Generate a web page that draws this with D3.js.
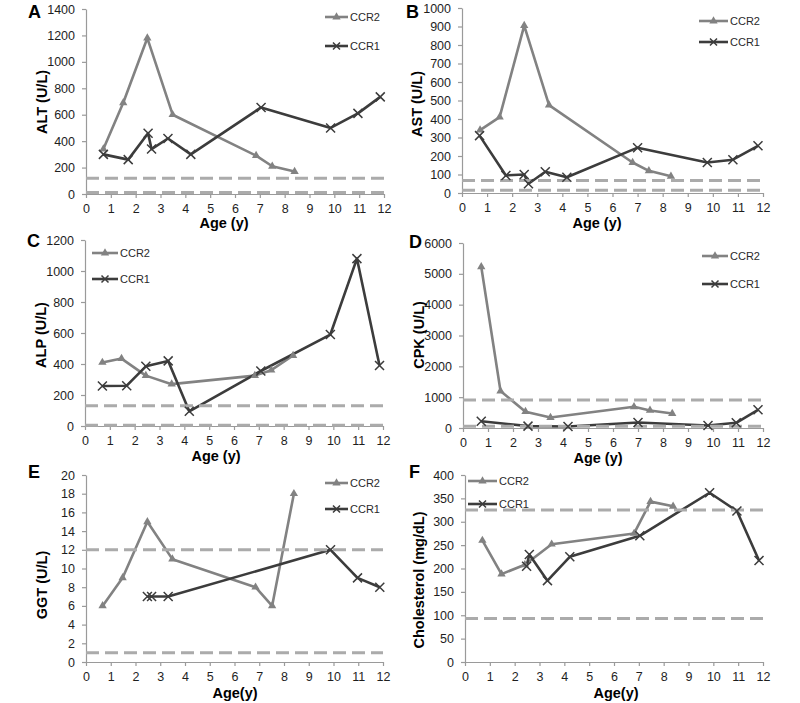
<!DOCTYPE html>
<html>
<head>
<meta charset="utf-8">
<script src="https://cdn.jsdelivr.net/npm/d3@7"></script>
<style>
  html, body { margin: 0; padding: 0; background: #fff; }
  svg { display: block; font-family: "Liberation Sans", Arial, sans-serif; }
</style>
</head>
<body>
<svg id="chart" width="800" height="703"></svg>
<script>
// ---------------- DATA ----------------
const xTickValues = [0, 1, 2, 3, 4, 5, 6, 7, 8, 9, 10, 11, 12];
const seriesNames = ["CCR2", "CCR1"];

// A: ALT
const altCCR2Age = [0.7, 1.5, 2.47, 3.49, 6.85, 7.5, 8.4];
const altCCR2 = [340, 690, 1180, 600, 290, 210, 170];
const altCCR1Age = [0.7, 1.7, 2.5, 2.64, 3.3, 4.22, 7.05, 9.85, 10.95, 11.85];
const altCCR1 = [300, 260, 460, 340, 420, 300, 655, 500, 610, 735];
const altRef = [12, 120];

// B: AST
const astCCR2Age = [0.72, 1.5, 2.48, 3.47, 6.8, 7.45, 8.33];
const astCCR2 = [340, 410, 905, 475, 165, 120, 90];
const astCCR1Age = [0.7, 1.75, 2.48, 2.65, 3.32, 4.18, 7.0, 9.78, 10.8, 11.8];
const astCCR1 = [310, 95, 100, 50, 115, 85, 245, 165, 180, 255];
const astRef = [15, 68];

// C: ALP
const alpCCR2Age = [0.7, 1.47, 2.45, 3.49, 6.84, 7.5, 8.38];
const alpCCR2 = [410, 435, 325, 270, 325, 360, 455];
const alpCCR1Age = [0.7, 1.68, 2.45, 3.35, 4.2, 7.08, 9.88, 10.95, 11.86];
const alpCCR1 = [258, 260, 385, 420, 95, 355, 590, 1080, 390];
const alpRef = [5, 130];

// D: CPK
const cpkCCR2Age = [0.73, 1.5, 2.5, 3.5, 6.84, 7.48, 8.37];
const cpkCCR2 = [5230, 1200, 530, 340, 690, 570, 470];
const cpkCCR1Age = [0.73, 2.6, 4.2, 7.0, 9.8, 10.93, 11.8];
const cpkCCR1 = [220, 60, 50, 180, 80, 170, 590];
const cpkRef = [55, 910];

// E: GGT
const ggtCCR2Age = [0.67, 1.48, 2.48, 3.49, 6.85, 7.52, 8.4];
const ggtCCR2 = [6, 9, 15, 11, 8, 6, 18];
const ggtCCR1Age = [2.48, 2.65, 3.32, 9.88, 10.97, 11.87];
const ggtCCR1 = [7, 7, 7, 12, 9, 8];
const ggtRef = [1, 12];

// F: Cholesterol
const cholCCR2Age = [0.7, 1.47, 2.41, 3.49, 6.81, 7.47, 8.38];
const cholCCR2 = [260, 188, 208, 252, 275, 343, 333];
const cholCCR1Age = [2.48, 2.59, 3.32, 4.22, 7.04, 9.85, 10.95, 11.84];
const cholCCR1 = [205, 230, 174, 225, 270, 362, 323, 217];
const cholRef = [93, 325];

// ---------------- LAYOUT ----------------
const panels = [
  { letter: "A", yTitle: "ALT (U/L)", xTitle: "Age (y)", yMax: 1400, yStep: 200,
    l: 86, r: 384, t: 9, b: 194, pad: 6, letterPos: [28, 18], yTitlePos: [42, 102], xTitlePos: [224, 228],
    leg: { x1: 325, x2: 348, y: [17, 46] },
    s2: [altCCR2Age, altCCR2], s1: [altCCR1Age, altCCR1], ref: altRef },
  { letter: "B", yTitle: "AST (U/L)", xTitle: "Age (y)", yMax: 1000, yStep: 100,
    l: 462, r: 763, t: 8, b: 193, pad: 6, letterPos: [406, 18], yTitlePos: [417, 104], xTitlePos: [597, 228],
    leg: { x1: 699, x2: 728, y: [21, 42] },
    s2: [astCCR2Age, astCCR2], s1: [astCCR1Age, astCCR1], ref: astRef },
  { letter: "C", yTitle: "ALP (U/L)", xTitle: "Age (y)", yMax: 1200, yStep: 200,
    l: 85, r: 383, t: 240, b: 426, pad: 6, letterPos: [27, 247], yTitlePos: [41, 335], xTitlePos: [216, 461],
    leg: { x1: 92, x2: 118, y: [253, 279] },
    s2: [alpCCR2Age, alpCCR2], s1: [alpCCR1Age, alpCCR1], ref: alpRef },
  { letter: "D", yTitle: "CPK (U/L)", xTitle: "Age (y)", yMax: 6000, yStep: 1000,
    l: 463, r: 763, t: 243, b: 428, pad: 6, letterPos: [409, 248], yTitlePos: [419, 335], xTitlePos: [598, 463],
    leg: { x1: 702, x2: 728, y: [256, 284] },
    s2: [cpkCCR2Age, cpkCCR2], s1: [cpkCCR1Age, cpkCCR1], ref: cpkRef },
  { letter: "E", yTitle: "GGT (U/L)", xTitle: "Age(y)", yMax: 20, yStep: 2,
    l: 86, r: 383, t: 475, b: 662, pad: 6, letterPos: [28, 478], yTitlePos: [42, 585], xTitlePos: [235, 698],
    leg: { x1: 325, x2: 348, y: [483, 509] },
    s2: [ggtCCR2Age, ggtCCR2], s1: [ggtCCR1Age, ggtCCR1], ref: ggtRef },
  { letter: "F", yTitle: "Cholesterol (mg/dL)", xTitle: "Age(y)", yMax: 400, yStep: 50,
    l: 465, r: 763, t: 475, b: 662, pad: 6, letterPos: [409, 478], yTitlePos: [419, 580], xTitlePos: [616, 698],
    leg: { x1: 468, x2: 497, y: [481, 504] },
    s2: [cholCCR2Age, cholCCR2], s1: [cholCCR1Age, cholCCR1], ref: cholRef }
];

const colCCR2 = "#828282";
const colCCR1 = "#3c3c3c";
const colRef = "#ababab";
const colAxis = "#9a9a9a";

const svg = d3.select("#chart");
const tri = d3.symbol().type(d3.symbolTriangle).size(30);

function drawX(g, cx, cy, s) {
  g.append("path")
    .attr("d", `M${cx - s},${cy - s}L${cx + s},${cy + s}M${cx - s},${cy + s}L${cx + s},${cy - s}`)
    .attr("stroke", colCCR1).attr("stroke-width", 1.5).attr("fill", "none");
}

panels.forEach(p => {
  const g = svg.append("g");
  const x = d3.scaleLinear().domain([0, 12]).range([p.l, p.r]);
  const y = d3.scaleLinear().domain([0, p.yMax]).range([p.b, p.t]);

  // axes
  const yAx = d3.axisLeft(y).tickValues(d3.range(0, p.yMax + p.yStep / 2, p.yStep))
    .tickSize(4).tickSizeOuter(0).tickPadding(7).tickFormat(d3.format("d"));
  const xAx = d3.axisBottom(x).tickValues(xTickValues)
    .tickSize(4).tickSizeOuter(0).tickPadding(p.pad).tickFormat(d3.format("d"));
  const gy = g.append("g").attr("transform", `translate(${p.l},0)`).call(yAx);
  const gx = g.append("g").attr("transform", `translate(0,${p.b})`).call(xAx);
  [gx, gy].forEach(a => {
    a.select(".domain").attr("stroke", colAxis).attr("stroke-width", 1.2);
    a.selectAll(".tick line").attr("stroke", colAxis).attr("stroke-width", 1.2);
    a.selectAll(".tick text").attr("fill", "#1e1e1e")
      .style("font-size", "12.5px").style("font-family", "'Liberation Sans', Arial, sans-serif");
  });

  // series lines
  const line = d3.line().x(d => x(d[0])).y(d => y(d[1]));
  const pts2 = p.s2[0].map((a, i) => [a, p.s2[1][i]]);
  const pts1 = p.s1[0].map((a, i) => [a, p.s1[1][i]]);
  g.append("path").datum(pts2).attr("d", line).attr("fill", "none")
    .attr("stroke", colCCR2).attr("stroke-width", 2.6).attr("stroke-linejoin", "round");
  g.append("path").datum(pts1).attr("d", line).attr("fill", "none")
    .attr("stroke", colCCR1).attr("stroke-width", 2.6).attr("stroke-linejoin", "round");

  // reference (normal range) dashed lines
  p.ref.forEach(v => {
    g.append("line")
      .attr("x1", x(0)).attr("x2", x(12)).attr("y1", y(v)).attr("y2", y(v))
      .attr("stroke", colRef).attr("stroke-width", 3).attr("stroke-dasharray", "13,6");
  });

  // markers
  g.selectAll(".m2").data(pts2).enter().append("path")
    .attr("d", tri).attr("transform", d => `translate(${x(d[0])},${y(d[1])})`)
    .attr("fill", colCCR2);
  pts1.forEach(d => drawX(g, x(d[0]), y(d[1]), 4.5));

  // legend
  const lg = g.append("g");
  seriesNames.forEach((name, i) => {
    const ly = p.leg.y[i];
    const col = i === 0 ? colCCR2 : colCCR1;
    lg.append("line").attr("x1", p.leg.x1).attr("x2", p.leg.x2).attr("y1", ly).attr("y2", ly)
      .attr("stroke", col).attr("stroke-width", 2.6);
    const mx = (p.leg.x1 + p.leg.x2) / 2;
    if (i === 0) {
      lg.append("path").attr("d", tri).attr("transform", `translate(${mx},${ly})`).attr("fill", col);
    } else {
      drawX(lg, mx, ly, 3.5);
    }
    lg.append("text").attr("x", p.leg.x2 + 2).attr("y", ly).attr("dy", "0.35em")
      .attr("fill", "#2a2a2a").style("font-size", "11px").text(name);
  });

  // titles
  g.append("text").attr("x", p.letterPos[0]).attr("y", p.letterPos[1])
    .style("font-size", "18px").style("font-weight", "bold").attr("fill", "#000").text(p.letter);
  g.append("text").attr("x", p.xTitlePos[0]).attr("y", p.xTitlePos[1]).attr("text-anchor", "middle")
    .style("font-size", "14.5px").style("font-weight", "bold").attr("fill", "#000").text(p.xTitle);
  g.append("text")
    .attr("transform", `translate(${p.yTitlePos[0]},${p.yTitlePos[1]}) rotate(-90)`)
    .attr("text-anchor", "middle").attr("dy", "0.36em")
    .style("font-size", "14.5px").style("font-weight", "bold").attr("fill", "#000").text(p.yTitle);
});
</script>
</body>
</html>
